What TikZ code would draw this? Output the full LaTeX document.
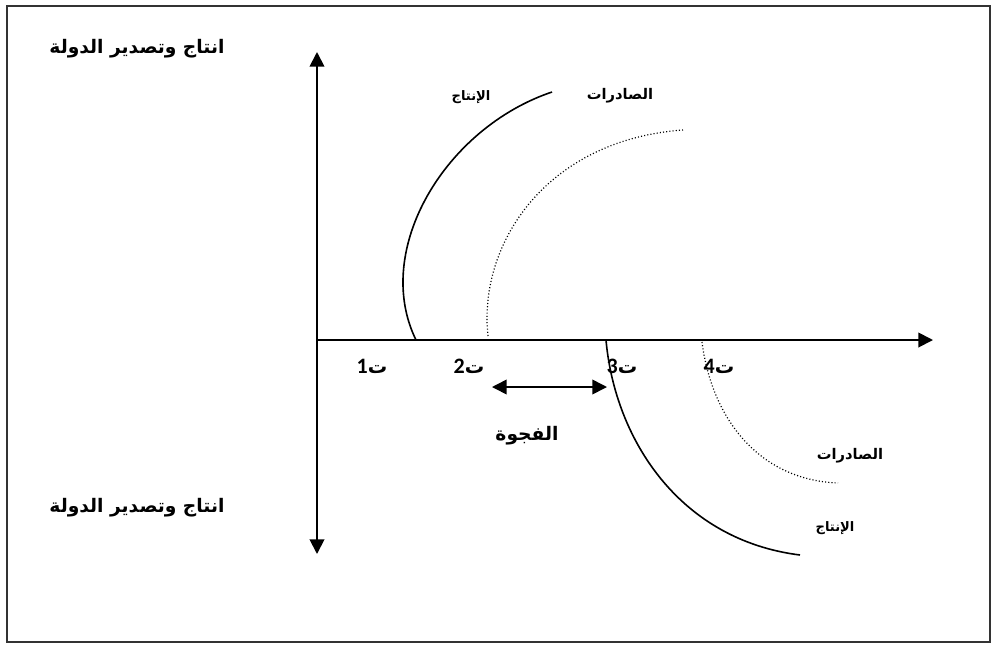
\documentclass[tikz,border=0pt]{standalone}
\usepackage{fontspec}
\setmainfont{Liberation Sans}
\newfontfamily\arabicfont[Script=Arabic]{DejaVu Sans}
\newfontfamily\digitfont{Carlito}
\TeXXeTstate=1
\usetikzlibrary{arrows.meta}
\newcommand{\tnum}[1]{\beginR ت{\digitfont\bfseries\fontsize{16.5}{18}\selectfont #1}\endR}

\begin{document}
\begin{tikzpicture}[x=0.75pt,y=-0.75pt,>={Triangle[length=11pt,width=11pt]},
    axis/.style={line width=1.4pt},
    prod/.style={line width=1.2pt},
    expo/.style={line width=0.9pt,dash pattern=on 0.8pt off 1.6pt},
    qty/.style={inner sep=0pt,font=\arabicfont\bfseries\fontsize{14}{16}\selectfont},
    curvelab/.style={inner sep=0pt,font=\arabicfont\bfseries\fontsize{11}{13}\selectfont},
    smalllab/.style={inner sep=0pt,font=\arabicfont\bfseries\fontsize{9.8}{11}\selectfont},
    tick/.style={inner sep=0pt,font=\arabicfont\bfseries\fontsize{14.5}{16}\selectfont}]
  \useasboundingbox (0,0) rectangle (996,644);
  \draw[line width=0.8pt,black!80] (7,6) rectangle (990,642);
  % axes
  \coordinate (o) at (317,340);
  \coordinate (ytop) at (317,52);
  \coordinate (ybot) at (317,554);
  \coordinate (xend) at (933,340);
  \draw[axis,->] (o)--(ytop);
  \draw[axis,->] (o)--(ybot);
  \draw[axis,->] (o)--(xend);
  \node[qty] (qtop) at (137,49) {\beginR انتاج وتصدير الدولة\endR};
  \node[qty] (qbot) at (137,508) {\beginR انتاج وتصدير الدولة\endR};
  % upper curves
  \coordinate (p1) at (416,340);
  \coordinate (p2) at (552,92);
  \draw[prod] (p1) .. controls (372,250) and (445,128) .. (p2);
  \coordinate (e1) at (488,336);
  \coordinate (e2) at (683,130);
  \draw[expo] (e1) .. controls (478,245) and (545,140) .. (e2);
  \node[smalllab] (prodtop) at (471,97) {\beginR الإنتاج\endR};
  \node[curvelab] (expotop) at (620,96) {\beginR الصادرات\endR};
  % lower curves
  \coordinate (p3) at (606,340);
  \coordinate (p4) at (800,555);
  \draw[prod] (p3) .. controls (615,440) and (680,540) .. (p4);
  \coordinate (e3) at (702,342);
  \coordinate (e4) at (838,483);
  \draw[expo] (e3) .. controls (712,420) and (760,480) .. (e4);
  \node[curvelab] (expobot) at (850,456) {\beginR الصادرات\endR};
  \node[smalllab] (prodbot) at (835,528) {\beginR الإنتاج\endR};
  % time points
  \node[tick] (t1) at (372,366) {\tnum{1}};
  \node[tick] (t2) at (469,366) {\tnum{2}};
  \node[tick] (t3) at (622,366) {\tnum{3}};
  \node[tick] (t4) at (719,366) {\tnum{4}};
  % gap
  \coordinate (g1) at (492,387);
  \coordinate (g2) at (607,387);
  \draw[line width=1.2pt,<->] (g1)--(g2);
  \node[qty] (gap) at (527,436) {\beginR الفجوة\endR};
\end{tikzpicture}
\end{document}
